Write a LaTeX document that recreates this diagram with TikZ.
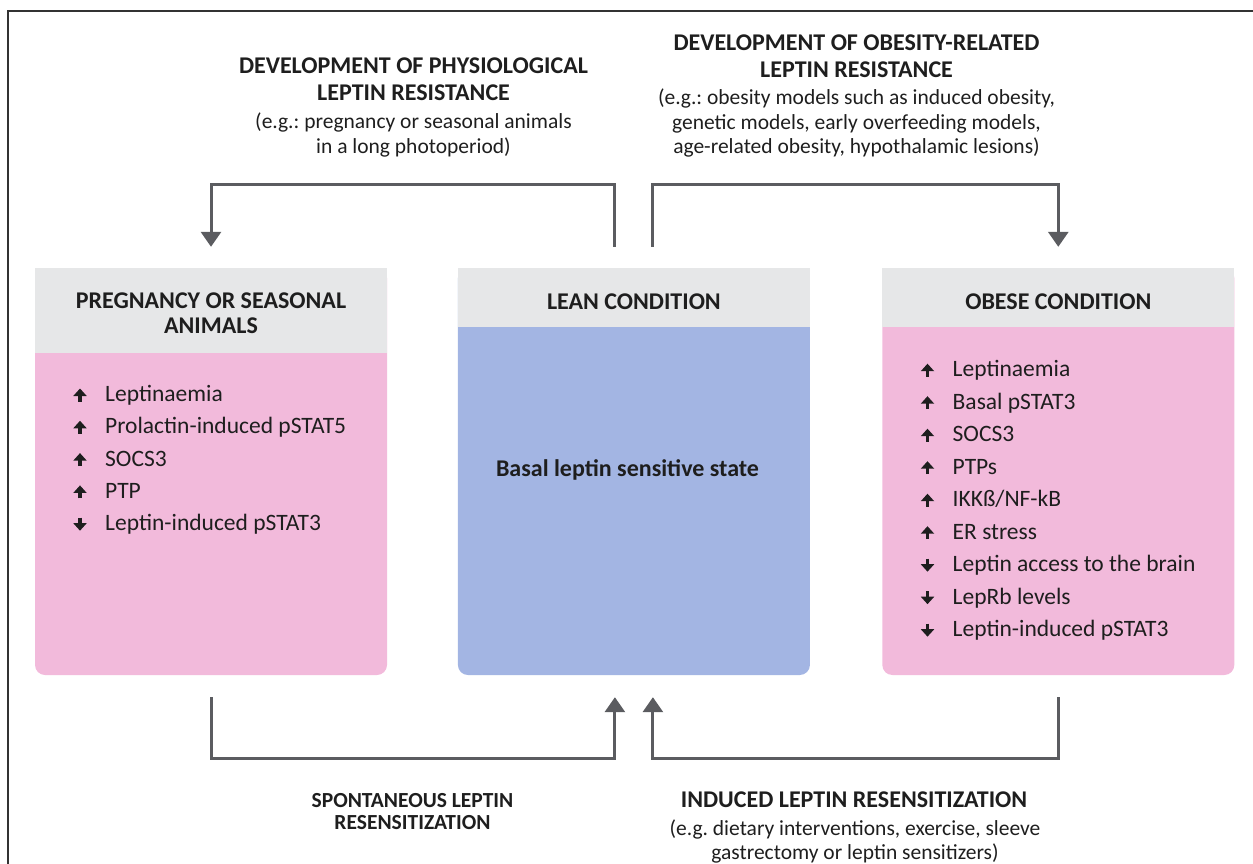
\documentclass[tikz,border=0pt]{standalone}
\usepackage{fontspec}
\setmainfont{Carlito}
\frenchspacing
\usetikzlibrary{positioning,arrows.meta}
\definecolor{headgray}{HTML}{E6E7E8}
\definecolor{bodypink}{HTML}{F2BADB}
\definecolor{bodyblue}{HTML}{A3B5E3}
\definecolor{linkgray}{HTML}{5B5C60}
\definecolor{inkc}{HTML}{1E1E1E}
\begin{document}
\begin{tikzpicture}[x=1pt,y=-1pt,text=inkc,
	box/.style={rounded corners=10pt,minimum width=352pt,minimum height=407pt,inner sep=0pt},
	head/.style={fill=headgray,minimum width=352pt,anchor=north,align=center,inner sep=0pt,text height=25pt,font=\bfseries\fontsize{24}{25}\selectfont},
	title/.style={align=center,inner sep=0pt,font=\bfseries\fontsize{24}{26.5}\selectfont},
	note/.style={align=center,inner sep=0pt,font=\fontsize{21.5}{24.5}\selectfont},
	item/.style={anchor=base west,inner sep=0pt,font=\fontsize{23.5}{25}\selectfont},
	itemarr/.style={-{Triangle[width=13pt,length=7.5pt]},line width=3.8pt,draw=inkc},
	link/.style={-{Triangle[width=20pt,length=15pt]},draw=linkgray,line width=3pt}]
	\useasboundingbox (0,0) rectangle (1253,864);
	\draw[line width=1.5pt,draw=black!80] (1253,11) -| (8,864);
	% the three conditions
	\node[box,fill=bodypink] (preg) at (211,471.5) {};
	\node[box,fill=bodyblue,right=70.5pt of preg] (lean) {};
	\node[box,fill=bodypink,right=72pt of lean] (obese) {};
	\node[head,minimum height=85pt,text height=46pt] (preghead) at (preg.north) {PREGNANCY OR SEASONAL\\ANIMALS};
	\node[head,minimum height=59pt] (leanhead) at (lean.north) {LEAN CONDITION};
	\node[head,minimum height=59pt] (obesehead) at (obese.north) {OBESE CONDITION};
	\node[anchor=base,inner sep=0pt,font=\bfseries\fontsize{24}{25}\selectfont] (leantext) at (627.5,476.7) {Basal leptin sensitive state};
	\foreach \s/\t [count=\i] in {1/Leptinaemia,1/Prolactin-induced pSTAT5,1/SOCS3,1/PTP,-1/Leptin-induced pSTAT3}{
		\pgfmathsetmacro\yy{401.5+32.3*(\i-1)}
		\node[item] (p\i) at (105,\yy) {\t};
		\draw[itemarr] ([xshift=-25pt,yshift={6.5-6.5*\s}]p\i.base west) -- ++(0,{-13*\s});
	}
	\foreach \s/\t [count=\i] in {1/Leptinaemia,1/Basal pSTAT3,1/SOCS3,1/PTPs,1/{IKKß/NF-kB},1/ER stress,-1/Leptin access to the brain,-1/LepRb levels,-1/Leptin-induced pSTAT3}{
		\pgfmathsetmacro\yy{376.7+32.5*(\i-1)}
		\node[item] (o\i) at (952.5,\yy) {\t};
		\draw[itemarr] ([xshift=-25pt,yshift={6.5-6.5*\s}]o\i.base west) -- ++(0,{-13*\s});
	}
	% transitions
	\node[title] (physt) at (413.5,79) {DEVELOPMENT OF PHYSIOLOGICAL\\LEPTIN RESISTANCE};
	\node[note] (physeg) at (413.5,135) {(e.g.: pregnancy or seasonal animals\\in a long photoperiod)};
	\node[title] (obest) at (856.5,56) {DEVELOPMENT OF OBESITY-RELATED\\LEPTIN RESISTANCE};
	\node[note] (obeseg) at (856.5,123) {(e.g.: obesity models such as induced obesity,\\genetic models, early overfeeding models,\\age-related obesity, hypothalamic lesions)};
	\node[title,font=\bfseries\fontsize{21.5}{22}\selectfont] (spont) at (412.5,811.5) {SPONTANEOUS LEPTIN\\RESENSITIZATION};
	\node[title,anchor=base] (induct) at (854,807.5) {INDUCED LEPTIN RESENSITIZATION};
	\node[note] (induceg) at (855,841.5) {(e.g. dietary interventions, exercise, sleeve\\gastrectomy or leptin sensitizers)};
	\draw[link] ([xshift=-19pt,yshift=21pt]lean.north) -- ++(0,-62) -| ([yshift=21pt]preg.north);
	\draw[link] ([xshift=19pt,yshift=21pt]lean.north) -- ++(0,-62) -| ([yshift=21pt]obese.north);
	\draw[link] ([yshift=-22pt]preg.south) -- ++(0,61) -| ([xshift=-19pt,yshift=-22pt]lean.south);
	\draw[link] ([yshift=-22pt]obese.south) -- ++(0,61) -| ([xshift=19pt,yshift=-22pt]lean.south);
\end{tikzpicture}
\end{document}
